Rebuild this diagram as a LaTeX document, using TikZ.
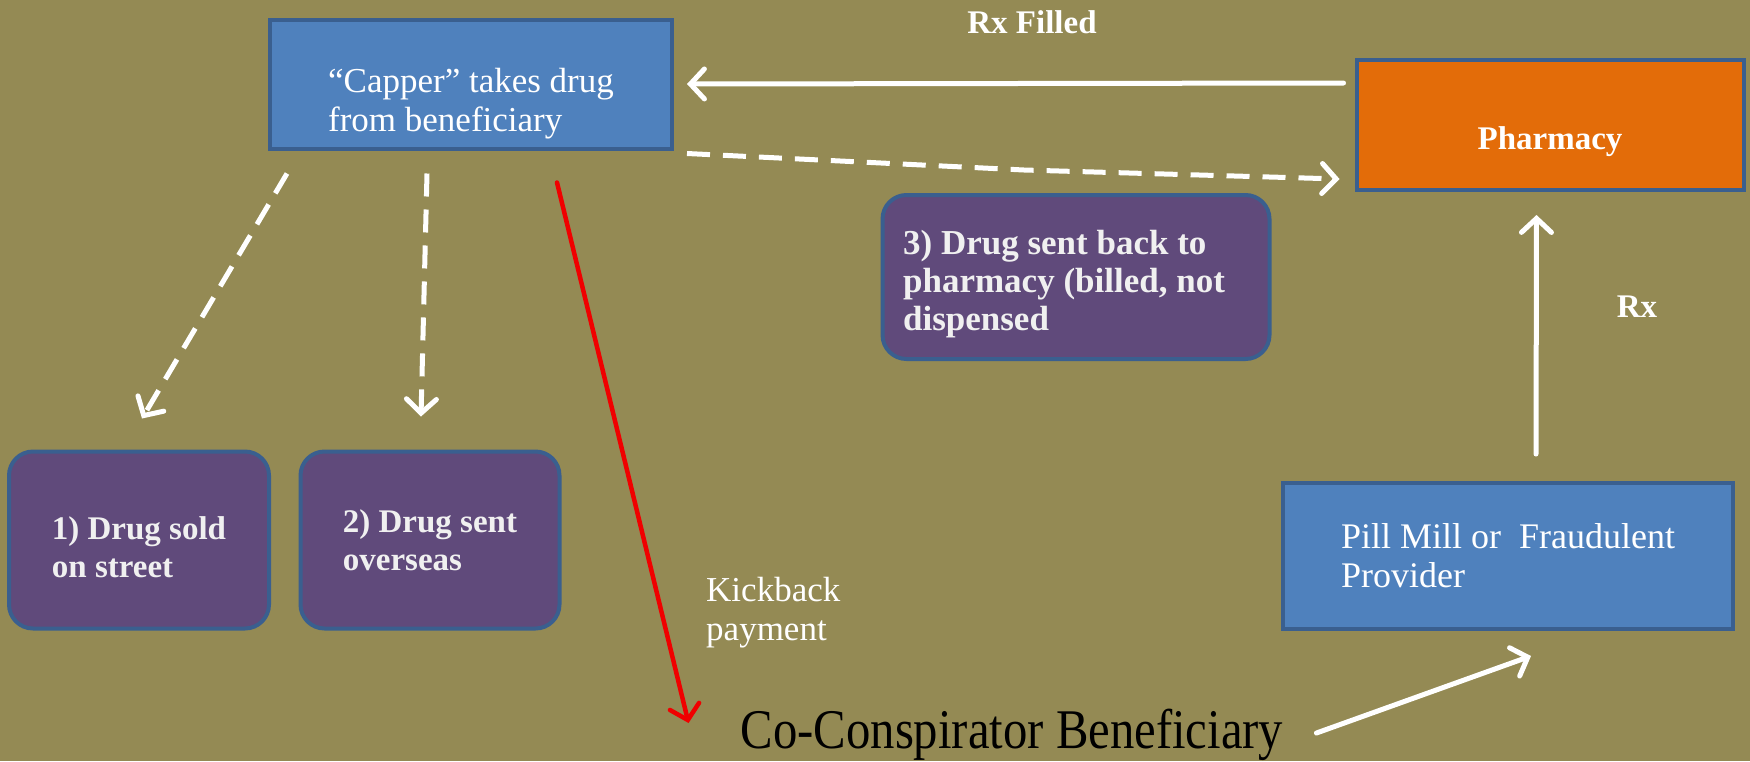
\documentclass[tikz,border=0pt]{standalone}
\usepackage{fontspec}
\setmainfont{Liberation Serif}
\newfontfamily\condfont[FakeStretch=0.87]{Liberation Serif}
\usetikzlibrary{arrows.meta,positioning}
\definecolor{bgolive}{HTML}{948A54}
\definecolor{boxblue}{HTML}{4F81BD}
\definecolor{edgeblue}{HTML}{3A5F8F}
\definecolor{boxpurple}{HTML}{604A7B}
\definecolor{boxorange}{HTML}{E36C09}
\definecolor{kickred}{HTML}{F00000}
\tikzset{bluebox/.style={rectangle,draw=edgeblue,fill=boxblue,line width=4pt,inner sep=0pt,outer sep=0pt},
         orangebox/.style={bluebox,fill=boxorange},
         purplebox/.style={bluebox,fill=boxpurple,rounded corners=24pt},
         lbl/.style={text=white,align=left,inner sep=0pt},
         boxlbl/.style={lbl,text=white!94!black,font=\fontsize{33}{38}\selectfont\bfseries},
         flow/.style={draw=white,line width=5pt,line cap=round,-{Straight Barb[length=14pt,width=30pt,line cap=round]}},
         dashflow/.style={flow,line cap=butt,dash pattern=on 23pt off 13pt},
         kick/.style={flow,draw=kickred,line width=4.5pt}}
\begin{document}
\begin{tikzpicture}[x=1pt,y=-1pt]
        \useasboundingbox[fill=bgolive] (0,0) rectangle (1750,761);

        \node[bluebox,minimum width=402pt,minimum height=129pt] (capper) at (471,84) {};
        \node[lbl,font=\fontsize{35}{39}\selectfont] (cappertext) at ([yshift=-20pt]capper.center)
            {``Capper'' takes drug\\from beneficiary};
        \node[orangebox,minimum width=387pt,minimum height=130pt] (pharmacy) at (1550,125) {};
        \node[lbl,font=\fontsize{33}{38}\selectfont\bfseries] (pharmacytext) at ([yshift=-17pt]pharmacy.center) {Pharmacy};
        \node[purplebox,minimum width=387pt,minimum height=164pt] (back) at (1076,277) {};
        \node[boxlbl,font=\fontsize{35}{38}\selectfont\bfseries] (backtext) at ([shift={(-12,7)}]back.center)
            {3) Drug sent back to\\pharmacy (billed, not\\dispensed};
        \node[purplebox,minimum width=260pt,minimum height=177pt] (street) at (139,540) {};
        \node[boxlbl] (streettext) at ([yshift=-7pt]street.center) {1) Drug sold\\on street};
        \node[purplebox,minimum width=259pt,minimum height=177pt] (overseas) at (430,540) {};
        \node[boxlbl] (overseastext) at (overseas.center) {2) Drug sent\\overseas};
        \node[bluebox,minimum width=450pt,minimum height=146pt,text=white,align=left,font=\fontsize{36}{39}\selectfont] (pillmill) at (1508,556)
            {Pill Mill or\ \ Fraudulent\\Provider};
        \node[inner sep=0pt,font=\condfont\fontsize{56}{60}\selectfont] (coconsp) at (1012,735)
            {Co-Conspirator Beneficiary};

        \node[lbl,font=\fontsize{33}{38}\selectfont\bfseries] (rxfilled) at (1032,22) {Rx Filled};
        \node[lbl,font=\fontsize{33}{38}\selectfont\bfseries] (rx) at (1637,307) {Rx};
        \node[lbl,anchor=north west,font=\fontsize{35}{39}\selectfont] (kickback) at (706,577) {Kickback\\payment};

        % arrows
        \draw[flow] ([shift={(-13,-42)}]pharmacy.west) -- ([shift={(15,0)}]capper.east);
        \draw[dashflow] ([shift={(15,5)}]capper.south east) -- (1024,170) -- ([shift={(-17,54)}]pharmacy.west);
        \draw[dashflow] ([shift={(17,25)}]capper.south west) -- ([shift={(3,-33)}]street.north);
        \draw[dashflow] ([shift={(-44,25)}]capper.south) -- ([shift={(-9,-35)}]overseas.north);
        \draw[kick] ([shift={(86,34)}]capper.south) -- ([shift={(-52,-12)}]coconsp.west);
        \draw[flow] ([shift={(28,-29)}]pillmill.north) -- ([shift={(-13.5,25)}]pharmacy.south);
        \draw[flow] ([shift={(33,-2)}]coconsp.east) -- ([shift={(23,27)}]pillmill.south);
    \end{tikzpicture}
\end{document}
